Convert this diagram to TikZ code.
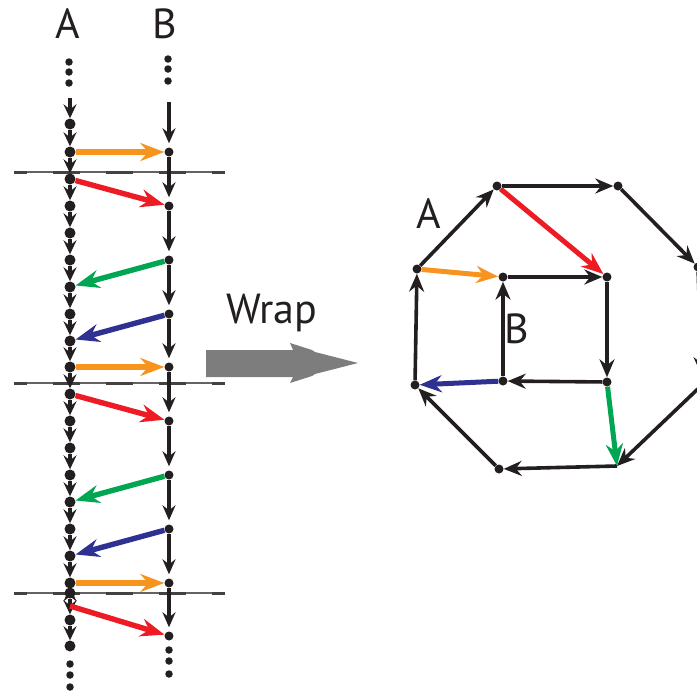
\documentclass[tikz,border=0pt]{standalone}
\usepackage{fontspec}
\setmainfont{PT Sans}
\usetikzlibrary{arrows.meta}
\definecolor{cOrange}{HTML}{F7941D}
\definecolor{cRed}{HTML}{ED1C24}
\definecolor{cGreen}{HTML}{00A651}
\definecolor{cBlue}{HTML}{2E3192}
\definecolor{cGray}{HTML}{7D7D7D}
\definecolor{cInk}{HTML}{231F20}
\begin{document}
\begin{tikzpicture}[x=1pt,y=-1pt,
  dotA/.style={circle,fill=cInk,inner sep=0pt,minimum size=11pt},
  dotB/.style={circle,fill=cInk,inner sep=0pt,minimum size=9pt},
  edot/.style={circle,fill=cInk,inner sep=0pt,minimum size=7.5pt},
  chainA/.style={draw=cInk,line width=3.6pt,-{Stealth[length=14pt,width=13pt,inset=5pt]}},
  chainB/.style={draw=cInk,line width=3.6pt,shorten >=4pt,-{Stealth[length=15pt,width=13pt,inset=5pt]}},
  colarrow/.style={line width=5.4pt,-{Stealth[length=24pt,width=18pt,inset=8pt]}},
  ring/.style={draw=cInk,line width=3.6pt,-{Stealth[length=18pt,width=15pt,inset=6pt]}},
  ringarrow/.style={line width=5pt,-{Stealth[length=22pt,width=17pt,inset=7pt]}},
  lbl/.style={font=\fontsize{42}{42}\selectfont,inner sep=0pt,text=cInk},
  cutline/.style={draw=cInk!70,line width=1.2pt},
  cutdash/.style={draw=cInk!85,line width=3pt,dash pattern=on 26.5pt off 26.5pt,dash phase=14pt}
]
\useasboundingbox (0,0) rectangle (697,691);
\clip (0,0) rectangle (697,691);

% labels
\node[lbl] (labA) at (68,24) {A};
\node[lbl] (labB) at (165,24) {B};

% ellipsis dots
\foreach \y [count=\i] in {62,72,83} \node[edot] (ta\i) at (69,\y) {};
\foreach \y [count=\i] in {59,69,81} \node[edot] (tb\i) at (168,\y) {};
\foreach \y [count=\i] in {664,675,687} \node[edot] (ba\i) at (70,\y) {};
\foreach \y [count=\i] in {650,661,674} \node[edot] (bb\i) at (169,\y) {};

% dashed cut lines
\foreach \y [count=\i] in {172,383,593} {
  \coordinate (cl\i) at (14,\y);
  \coordinate (cr\i) at (225,\y);
  \draw[cutline] (cl\i) -- (cr\i);
  \draw[cutdash] (cl\i) -- (cr\i);
}

% column A
\coordinate (atop) at (70,98);
\foreach \y [count=\i] in {124,152,179,206,233,260,287,314,341,367,394,421,448,475,502,529,556,583,593,620,646}
  \node[dotA] (a\i) at (70,\y) {};
\draw[chainA] (atop) -- (a1);
\foreach \i [evaluate=\i as \j using int(\i+1)] in {1,...,20}
  \draw[chainA] (a\i) -- (a\j);

% column B
\coordinate (btop) at (169,102);
\foreach \y [count=\i] in {152,206,260,314,367,421,475,529,583,636}
  \node[dotB] (b\i) at (169,\y) {};
\draw[chainB] (btop) -- (b1);
\foreach \i [evaluate=\i as \j using int(\i+1)] in {1,...,9}
  \draw[chainB] (b\i) -- (b\j);

% coloured transitions
\coordinate (r3s) at (70,606);
\draw[colarrow,cOrange] (a2) -- (b1);
\draw[colarrow,cRed] (a3) -- (b2);
\draw[colarrow,cGreen] (b3) -- (a7);
\draw[colarrow,cBlue] (b4) -- (a9);
\draw[colarrow,cOrange] (a10) -- (b5);
\draw[colarrow,cRed] (a11) -- (b6);
\draw[colarrow,cGreen] (b7) -- (a15);
\draw[colarrow,cBlue] (b8) -- (a17);
\draw[colarrow,cOrange] (a18) -- (b9);
\draw[colarrow,cRed] (r3s) -- (b10);

% Wrap arrow
\node[lbl] (wrap) at (272,313) {Wrap};
\fill[cGray] (206,350) -- (293,350) -- (290,343) -- (312,350) -- (315,352) -- (358,363) -- (315,374) -- (312,376) -- (290,383) -- (293,377) -- (206,377) -- cycle;

% octagon
\node[dotB] (o1) at (417,269) {};
\node[dotB] (o2) at (497,186) {};
\node[dotB] (o3) at (618,186) {};
\node[dotB] (o4) at (698,267) {};
\coordinate (o5) at (702,385);
\coordinate (o6) at (617,466);
\node[dotB] (o7) at (499,469) {};
\node[dotB] (o8) at (415,385) {};
% square
\node[dotB] (s1) at (503,277) {};
\node[dotB] (s2) at (607,277) {};
\node[dotB] (s3) at (607,382) {};
\node[dotB] (s4) at (503,381) {};

\draw[ring] (o1) -- (o2);
\draw[ring] (o2) -- (o3);
\draw[ring] (o3) -- (o4);
\draw[ring,shorten >=10pt] (o4) -- (o5);
\draw[ring] (o5) -- (o6);
\draw[ring] (o6) -- (o7);
\draw[ring] (o7) -- (o8);
\draw[ring] (o8) -- (o1);

\draw[ring] (s1) -- (s2);
\draw[ring] (s2) -- (s3);
\draw[ring] (s3) -- (s4);
\draw[ring] (s4) -- (s1);

\draw[ringarrow,cOrange] (o1) -- (s1);
\draw[ringarrow,cRed] (o2) -- (s2);
\draw[ringarrow,cGreen] (s3) -- (o6);
\draw[ringarrow,cBlue] (s4) -- (o8);

\node[lbl] (labA2) at (429,214) {A};
\node[lbl] (labB2) at (517,329) {B};
\end{tikzpicture}
\end{document}
